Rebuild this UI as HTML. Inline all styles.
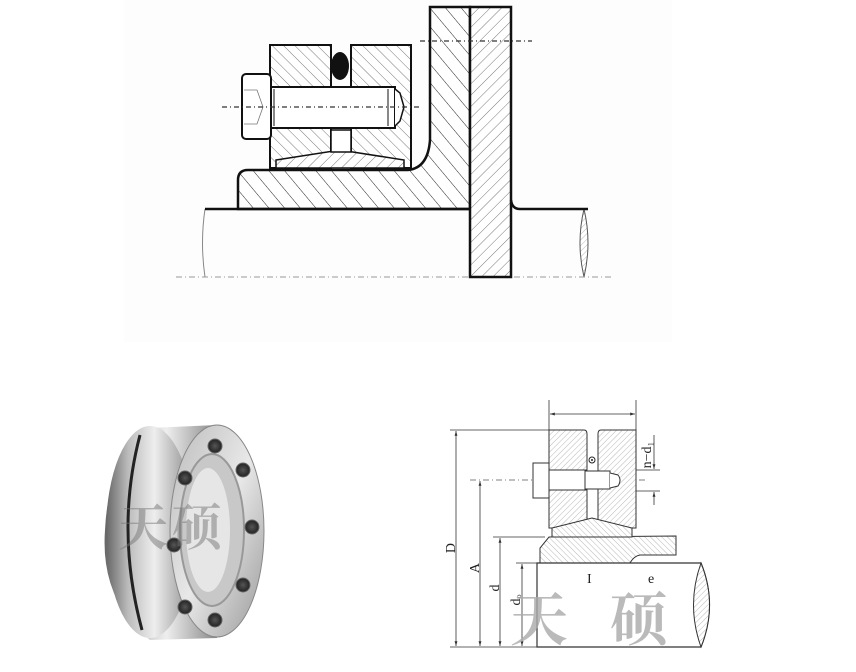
<!DOCTYPE html>
<html><head><meta charset="utf-8"><style>
html,body{margin:0;padding:0;background:#fff;}
svg{display:block;}
</style></head><body>
<svg width="856" height="672" viewBox="0 0 856 672" xmlns="http://www.w3.org/2000/svg">
<defs>
<pattern id="h1" width="8" height="8" patternUnits="userSpaceOnUse" patternTransform="rotate(45)"><rect width="8" height="8" fill="#fff"/><line x1="0" y1="0" x2="0" y2="8" stroke="#555" stroke-width="0.8"/></pattern>
<pattern id="h2" width="8" height="8" patternUnits="userSpaceOnUse" patternTransform="rotate(-45)"><rect width="8" height="8" fill="#fff"/><line x1="0" y1="0" x2="0" y2="8" stroke="#555" stroke-width="0.8"/></pattern>
<pattern id="h3" width="12" height="12" patternUnits="userSpaceOnUse" patternTransform="rotate(-40)"><rect width="12" height="12" fill="#fff"/><line x1="0" y1="0" x2="0" y2="12" stroke="#222" stroke-width="1"/></pattern>
<pattern id="s1" width="4" height="4" patternUnits="userSpaceOnUse" patternTransform="rotate(45)"><rect width="4" height="4" fill="#fff"/><line x1="0" y1="0" x2="0" y2="4" stroke="#888" stroke-width="0.6"/></pattern>
<pattern id="s2" width="4" height="4" patternUnits="userSpaceOnUse" patternTransform="rotate(-45)"><rect width="4" height="4" fill="#fff"/><line x1="0" y1="0" x2="0" y2="4" stroke="#888" stroke-width="0.6"/></pattern>
<linearGradient id="met" x1="0" y1="0" x2="1" y2="0"><stop offset="0" stop-color="#666"/><stop offset="0.25" stop-color="#bbb"/><stop offset="0.55" stop-color="#eee"/><stop offset="1" stop-color="#888"/></linearGradient>
<linearGradient id="met2" x1="0" y1="0" x2="1" y2="1"><stop offset="0" stop-color="#bbb"/><stop offset="0.5" stop-color="#e8e8e8"/><stop offset="1" stop-color="#999"/></linearGradient>
<radialGradient id="bolt"><stop offset="0" stop-color="#555"/><stop offset="1" stop-color="#222"/></radialGradient>
<marker id="ar" viewBox="0 0 10 10" refX="10" refY="5" markerWidth="6" markerHeight="6" orient="auto-start-reverse"><path d="M0 2 L10 5 L0 8Z" fill="#333"/></marker>
</defs>
<rect width="856" height="672" fill="#fff"/>
<rect x="124" y="0" width="548" height="342" fill="#fdfdfd"/>

<!-- TOP DRAWING -->
<path d="M205 209 Q200 243 205 277" fill="none" stroke="#888" stroke-width="1"/>
<path d="M584 209 Q592 243 584 277 Q576 243 584 209Z" fill="url(#s1)" stroke="#555" stroke-width="1"/>
<line x1="176" y1="277" x2="612" y2="277" stroke="#999" stroke-width="1" stroke-dasharray="6,3,1,3"/>
<path d="M238 180 Q238 170 248 170 L408 170 Q428 168 430 140 L430 7 L470 7 L470 209 L238 209 Z" fill="url(#h3)" stroke="#111" stroke-width="2.5"/>
<rect x="470" y="7" width="41" height="270" fill="url(#h1)" stroke="#111" stroke-width="2.5"/>
<path d="M511 200 Q512 209 520 209 L588 209" fill="none" stroke="#111" stroke-width="2.5"/>
<line x1="205" y1="209" x2="470" y2="209" stroke="#111" stroke-width="2.5"/>
<rect x="270" y="45" width="61" height="123" fill="url(#h2)" stroke="#111" stroke-width="2"/>
<rect x="351" y="45" width="60" height="123" fill="url(#h2)" stroke="#111" stroke-width="2"/>
<path d="M276 160 L340 150 L404 160 L404 168 L276 168Z" fill="url(#h1)" stroke="#111" stroke-width="1.5"/>
<rect x="331" y="130" width="20" height="22" fill="#fff" stroke="#111" stroke-width="1.5"/>
<ellipse cx="340" cy="66" rx="9" ry="14" fill="#111"/>
<rect x="242" y="74" width="29" height="65" rx="4" fill="#fff" stroke="#111" stroke-width="2"/>
<rect x="271" y="87" width="124" height="41" fill="#fff" stroke="#111" stroke-width="2"/>
<path d="M395 89 L400 93 L404 107 L400 121 L395 126" fill="#fff" stroke="#111" stroke-width="1.5"/>
<line x1="274" y1="89" x2="274" y2="126" stroke="#111" stroke-width="1"/>
<line x1="388" y1="89" x2="388" y2="126" stroke="#111" stroke-width="1"/>
<path d="M244 90 L257 90 L263 107 L257 124 L244 124" fill="none" stroke="#777" stroke-width="0.8"/>
<line x1="222" y1="107" x2="420" y2="107" stroke="#333" stroke-width="1.2" stroke-dasharray="5,3,1,3"/>
<line x1="420" y1="41" x2="532" y2="41" stroke="#333" stroke-width="1.2" stroke-dasharray="5,3,1,3"/>

<!-- BOTTOM RIGHT DRAWING -->
<g stroke="#333" stroke-width="0.8" fill="none">
<line x1="549" y1="400" x2="549" y2="430"/><line x1="636" y1="400" x2="636" y2="430"/>
<line x1="550" y1="414" x2="635" y2="414" marker-start="url(#ar)" marker-end="url(#ar)"/>
<line x1="450" y1="430" x2="549" y2="430"/>
<line x1="456" y1="431" x2="456" y2="646" marker-start="url(#ar)" marker-end="url(#ar)"/>
<line x1="480" y1="481" x2="480" y2="646" marker-start="url(#ar)" marker-end="url(#ar)"/>
<line x1="500" y1="538" x2="500" y2="646" marker-start="url(#ar)" marker-end="url(#ar)"/>
<line x1="522" y1="564" x2="522" y2="646" marker-start="url(#ar)" marker-end="url(#ar)"/>
<line x1="450" y1="647" x2="540" y2="647"/>
<line x1="493" y1="537" x2="545" y2="537"/>
<line x1="516" y1="563" x2="540" y2="563"/>
<line x1="563" y1="586" x2="629" y2="586" marker-start="url(#ar)" marker-end="url(#ar)"/><line x1="631" y1="586" x2="660" y2="586"/>
<line x1="562" y1="530" x2="562" y2="590"/><line x1="630" y1="530" x2="630" y2="590"/>
<line x1="654" y1="435" x2="654" y2="469" marker-end="url(#ar)"/>
<line x1="654" y1="505" x2="654" y2="492" marker-end="url(#ar)"/>
<line x1="636" y1="470" x2="660" y2="470"/><line x1="636" y1="491" x2="660" y2="491"/>
</g>
<line x1="470" y1="480" x2="645" y2="480" stroke="#555" stroke-width="0.8" stroke-dasharray="6,3,1,3"/>
<path d="M540 563 L540 548 L549 537 L676 536 L676 555 L640 555 Q634 556 630 563 Z" fill="url(#s2)" stroke="#333" stroke-width="1"/>
<path d="M537 563 L701 563 Q718 605 701 647 L537 647 Z" fill="#fff" stroke="#333" stroke-width="1.2"/>
<path d="M701 563 Q686 605 701 647 Q718 605 701 563Z" fill="url(#s1)" stroke="#333" stroke-width="1"/>
<path d="M549 430 L584 430 Q587 430 587 434 L587 528 L549 528Z" fill="url(#s1)" stroke="#333" stroke-width="1"/>
<path d="M636 430 L601 430 Q598 430 598 434 L598 528 L636 528Z" fill="url(#s1)" stroke="#333" stroke-width="1"/>
<path d="M552 528 L592 518 L632 528 L632 537 L552 537Z" fill="url(#s2)" stroke="#333" stroke-width="1"/>
<circle cx="592" cy="460" r="3" fill="#fff" stroke="#222" stroke-width="1"/><circle cx="592" cy="460" r="1" fill="#222"/>
<rect x="533" y="463" width="16" height="35" fill="#fff" stroke="#333" stroke-width="1"/>
<rect x="549" y="470" width="38" height="20" fill="#fff" stroke="#333" stroke-width="1"/>
<rect x="585" y="471" width="25" height="18" fill="#fff" stroke="#333" stroke-width="1"/>
<path d="M610 473 L618 475 Q622 480 618 486 L610 488" fill="#fff" stroke="#333" stroke-width="1"/>
<g font-family="Liberation Serif, serif" font-size="14" fill="#222">
<text x="455" y="548" transform="rotate(-90 455 548)" text-anchor="middle">D</text>
<text x="479" y="568" transform="rotate(-90 479 568)" text-anchor="middle">A</text>
<text x="499" y="588" transform="rotate(-90 499 588)" text-anchor="middle">d</text>
<text x="520" y="600" transform="rotate(-90 520 600)" text-anchor="middle">dₒ</text>
<text x="651" y="455" transform="rotate(-90 651 455)" text-anchor="middle">n−d₁</text>
<text x="587" y="583">I</text>
<text x="648" y="583">e</text>
</g>
<g font-family="Liberation Sans, 'Noto Serif CJK SC', serif" font-size="58" font-weight="bold" fill="#aaa" opacity="0.8">
<text x="510" y="640">天</text><text x="610" y="640">硕</text>
</g>

<!-- PHOTO -->
<path d="M150 428 L217 425 L217 638 L150 640 Q100 600 105 530 Q108 460 150 428Z" fill="url(#met)"/>
<ellipse cx="150" cy="532" rx="44" ry="106" fill="url(#met)"/>
<path d="M140 435 Q115 530 142 630" fill="none" stroke="#222" stroke-width="3"/>
<ellipse cx="217" cy="531" rx="47" ry="106" fill="url(#met2)" stroke="#888" stroke-width="1"/>
<ellipse cx="212" cy="530" rx="32" ry="76" fill="#c8c8c8" stroke="#999" stroke-width="2"/>
<ellipse cx="208" cy="530" rx="22" ry="62" fill="#e6e6e6"/>
<g fill="url(#bolt)" stroke="#666" stroke-width="1">
<circle cx="215" cy="446" r="7"/><circle cx="243" cy="470" r="7"/><circle cx="252" cy="527" r="7"/><circle cx="243" cy="585" r="7"/><circle cx="215" cy="620" r="7"/><circle cx="185" cy="607" r="7"/><circle cx="174" cy="545" r="7"/><circle cx="185" cy="478" r="7"/>
</g>
<g font-family="Liberation Sans, 'Noto Serif CJK SC', serif" font-size="50" font-weight="bold" fill="#777" opacity="0.5">
<text x="118" y="545">天</text><text x="172" y="545">硕</text>
</g>
</svg>
</body></html>
